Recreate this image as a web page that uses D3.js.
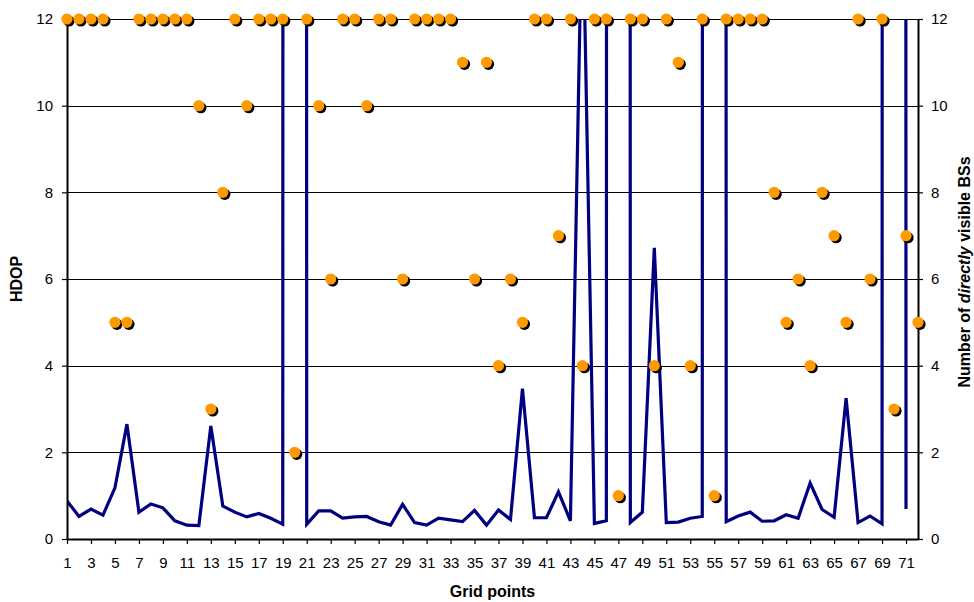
<!DOCTYPE html>
<html><head><meta charset="utf-8">
<script src="https://cdn.jsdelivr.net/npm/d3@7/dist/d3.min.js"></script>
<style>body{margin:0;background:#fff}text{font-family:"Liberation Sans",Arial,sans-serif}</style>
</head><body><svg id="c" width="974" height="602"></svg>
<script>
const gridPoints = [1,2,3,4,5,6,7,8,9,10,11,12,13,14,15,16,17,18,19,20,21,22,23,24,25,26,27,28,29,30,31,32,33,34,35,36,37,38,39,40,41,42,43,44,45,46,47,48,49,50,51,52,53,54,55,56,57,58,59,60,61,62,63,64,65,66,67,68,69,70,71,72];
const hdop = [0.88,0.52,0.69,0.55,1.18,2.65,0.62,0.81,0.72,0.42,
  0.32,0.31,2.61,0.76,0.62,0.51,0.59,0.48,0.34,999,
  0.34,0.65,0.65,0.48,0.51,0.52,0.40,0.32,0.80,0.38,
  0.32,0.48,0.44,0.40,0.66,0.32,0.67,0.45,3.47,0.49,
  0.49,1.09,0.42,15,0.36,0.42,999,0.38,0.62,6.72,
  0.38,0.39,0.48,0.52,999,0.40,0.53,0.62,0.41,0.42,
  0.56,0.48,1.29,0.68,0.50,3.25,0.38,0.53,0.35,999,
  0.69,null];
const visibleBS = [12,12,12,12,5,5,12,12,12,12,
  12,10,3,8,12,10,12,12,12,2,
  12,10,6,12,12,10,12,12,6,12,
  12,12,12,11,6,11,4,6,5,12,
  12,7,12,4,12,12,1,12,12,4,
  12,11,4,12,1,12,12,12,12,8,
  5,6,4,8,7,5,12,6,12,3,
  7,5];
const xTickLabels = [1,3,5,7,9,11,13,15,17,19,21,23,25,27,29,31,33,35,37,39,41,43,45,47,49,51,53,55,57,59,61,63,65,67,69,71];
const yTicks = [0,2,4,6,8,10,12];

const W = 974, H = 602;
const m = {left:67, right:56, top:19, bottom:63};
const svg = d3.select("#c");
const x = d3.scaleLinear().domain([1,72]).range([m.left, W-m.right]);
const yL = d3.scaleLinear().domain([0,12]).range([H-m.bottom, m.top]);
const yR = d3.scaleLinear().domain([0,12]).range([H-m.bottom, m.top]);

// gridlines
svg.append("g").selectAll("line").data(yTicks.filter(d=>d>0)).join("line")
  .attr("x1", m.left).attr("x2", W-m.right)
  .attr("y1", d=>Math.round(yL(d))+0.5).attr("y2", d=>Math.round(yL(d))+0.5)
  .attr("stroke","#000").attr("stroke-width",1);

// clip
svg.append("clipPath").attr("id","clip").append("rect")
  .attr("x", m.left).attr("y", m.top).attr("width", W-m.left-m.right).attr("height", H-m.top-m.bottom);

const data = gridPoints.map((g,i)=>({g, h:hdop[i], b:visibleBS[i]}));
const line = d3.line().defined(d=>d.h!=null).x(d=>x(d.g)).y(d=>yL(d.h));
svg.append("path").datum(data).attr("clip-path","url(#clip)")
  .attr("d", line).attr("fill","none").attr("stroke","#000080").attr("stroke-width",3.2)
  .attr("stroke-linejoin","miter");

// axes
const fs = "15px";
const ax = svg.append("g").attr("transform",`translate(0,${H-m.bottom})`)
  .call(d3.axisBottom(x).tickValues(xTickLabels).tickFormat(d3.format("d")).tickSize(5).tickSizeOuter(0).tickPadding(13));
const ayl = svg.append("g").attr("transform",`translate(${m.left},0)`)
  .call(d3.axisLeft(yL).tickValues(yTicks).tickFormat(d3.format("d")).tickSize(5).tickSizeOuter(0).tickPadding(9));
const ayr = svg.append("g").attr("transform",`translate(${W-m.right},0)`)
  .call(d3.axisRight(yR).tickValues(yTicks).tickFormat(d3.format("d")).tickSize(5).tickSizeOuter(0).tickPadding(8));
[ax,ayl,ayr].forEach(a=>{
  a.select(".domain").attr("stroke","#000").attr("stroke-width",2);
  a.selectAll(".tick line").attr("stroke","#000").attr("stroke-width",1.2);
  a.selectAll("text").attr("font-size",fs).attr("fill","#000").attr("font-family",'"Liberation Sans",Arial,sans-serif');
});

// dots
const dots = svg.append("g").selectAll("g").data(data).join("g")
  .attr("transform", d=>`translate(${x(d.g)},${yR(d.b)})`);
dots.append("circle").attr("cx",2).attr("cy",2).attr("r",5.6).attr("fill","#000");
dots.append("circle").attr("r",5.6).attr("fill","#FF9900");

// titles
svg.append("text").attr("x", (m.left + W - m.right)/2).attr("y", 597)
  .attr("text-anchor","middle").attr("font-weight","bold").attr("font-size","16px").text("Grid points");
svg.append("text").attr("transform",`translate(22,${(m.top+H-m.bottom)/2}) rotate(-90)`)
  .attr("text-anchor","middle").attr("font-weight","bold").attr("font-size","16px").text("HDOP");
const rt = svg.append("text").attr("transform",`translate(970,${(m.top+H-m.bottom)/2 - 7}) rotate(-90)`)
  .attr("text-anchor","middle").attr("font-weight","bold").attr("font-size","16px");
rt.append("tspan").text("Number of ");
rt.append("tspan").attr("font-style","italic").text("directly");
rt.append("tspan").text(" visible BSs");
</script></body></html>
